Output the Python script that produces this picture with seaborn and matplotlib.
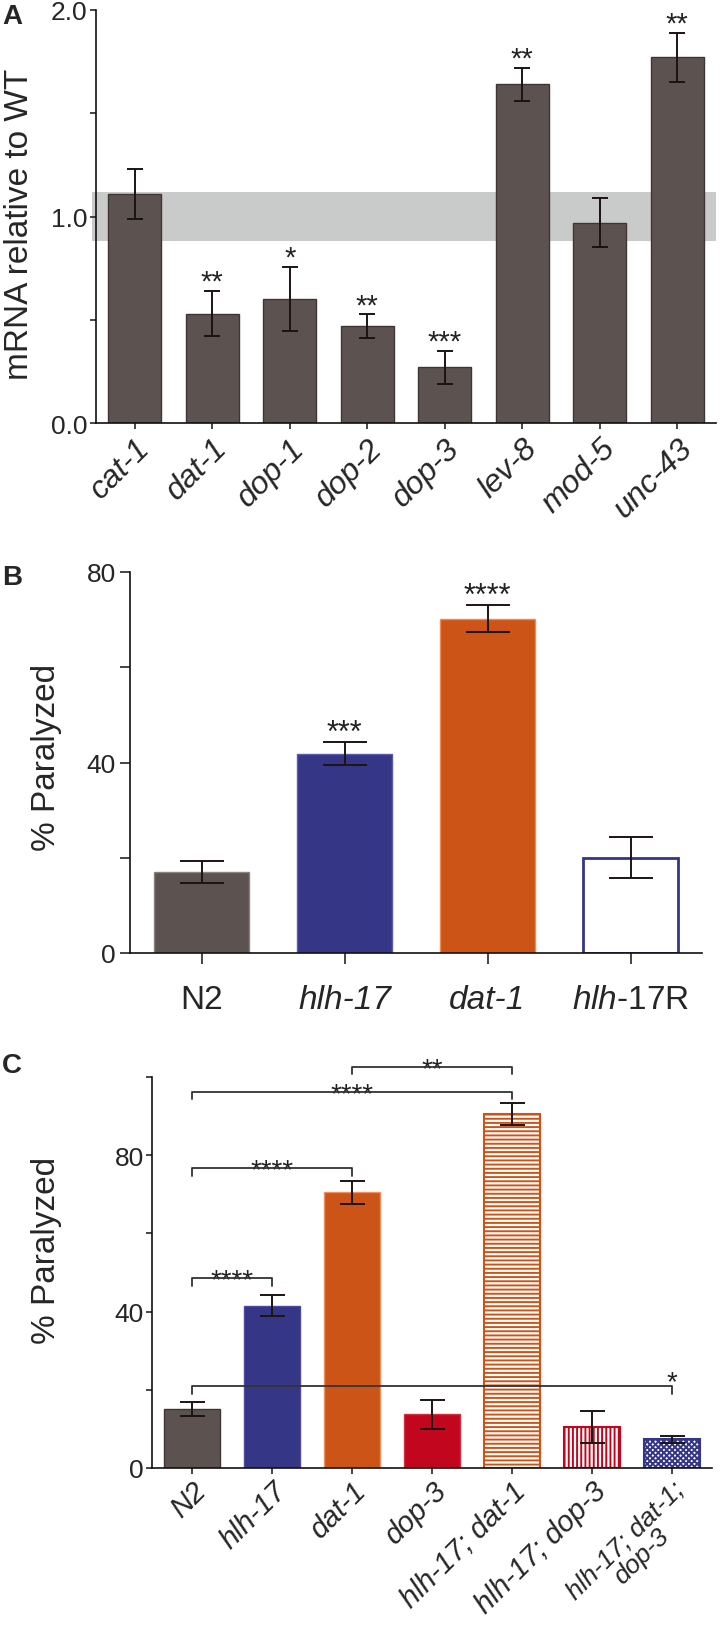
import numpy as np
import pandas as pd
import matplotlib
matplotlib.use("Agg")
import matplotlib.pyplot as plt
import seaborn as sns

# Panel A: qPCR, mRNA relative to WT
genes_a = ["cat-1", "dat-1", "dop-1", "dop-2", "dop-3", "lev-8", "mod-5", "unc-43"]
mrna_a = [1.11, 0.53, 0.60, 0.47, 0.27, 1.64, 0.97, 1.77]
sem_a = [0.12, 0.11, 0.155, 0.056, 0.08, 0.08, 0.12, 0.12]
stars_a = ["", "**", "*", "**", "***", "**", "", "**"]
wt_band = (0.88, 1.12)

# Panel B: % paralyzed
strains_b = ["N2", "hlh-17", "dat-1", "hlh-17R"]
labels_b = ["N2", "hlh-17", "dat-1", "$\\mathit{hlh}$-$\\mathit{17}$R"]
para_b = [17.0, 41.8, 70.2, 20.0]
sem_b = [2.4, 2.4, 2.8, 4.3]
stars_b = ["", "***", "****", ""]

# Panel C: % paralyzed, double / triple mutants
strains_c = ["N2", "hlh-17", "dat-1", "dop-3", "hlh-17; dat-1", "hlh-17; dop-3",
             "hlh-17; dat-1;\ndop-3"]
para_c = [15.2, 41.5, 70.5, 13.7, 90.5, 10.4, 7.4]
sem_c = [1.8, 2.7, 2.9, 3.8, 2.9, 4.1, 0.9]
# (left bar, right bar, height, label)
brackets_c = [(2, 4, 102.6, "**"), (0, 4, 96.2, "****"), (0, 2, 76.7, "****"),
              (0, 1, 48.5, "****"), (0, 6, 20.9, "*")]

GRAY = "#5c5250"
BLUE = "#363687"
ORANGE = "#cc5416"
RED = "#c1061d"
ERR = "#1c1414"

sns.set_style("ticks")
plt.rcParams["font.family"] = ["Liberation Sans", "DejaVu Sans"]
plt.rcParams["hatch.linewidth"] = 1.4
plt.rcParams["mathtext.fontset"] = "custom"
plt.rcParams["mathtext.rm"] = "Liberation Sans"
plt.rcParams["mathtext.it"] = "Liberation Sans:italic"

fig = plt.figure(figsize=(7.2, 16.31), dpi=100)
W, H = 720, 1631


def add_ax(l, r, t, b):
    return fig.add_axes([l / W, 1 - b / H, (r - l) / W, (b - t) / H])


def style(ax):
    sns.despine(ax=ax)
    for s in ["left", "bottom"]:
        ax.spines[s].set_linewidth(1.2)
        ax.spines[s].set_color("#111111")


# ---------------- A ----------------
axA = add_ax(96, 716, 11, 424)
axA.axhspan(*wt_band, xmin=-0.007, xmax=1.0, color="#c9cbca", zorder=0, clip_on=False, lw=0)
sns.barplot(x=genes_a, y=mrna_a, color=GRAY, width=0.68, errorbar=None,
            edgecolor="#3e3534", linewidth=1.0, saturation=1, ax=axA, zorder=2)
axA.errorbar(range(len(genes_a)), mrna_a, yerr=sem_a, fmt="none", ecolor=ERR,
             elinewidth=1.4, capsize=6, capthick=1.4, zorder=4)
for i, s in enumerate(stars_a):
    if s:
        axA.text(i, mrna_a[i] + sem_a[i] + 0.005, s, ha="center", va="baseline",
                 fontsize=21, color="#222222")
axA.set_xlim(-0.5, 7.5)
axA.set_ylim(0, 2.0)
axA.set_yticks([0, 1, 2])
axA.set_yticklabels(["0.0", "1.0", "2.0"])
axA.set_yticks([0.5, 1.5], minor=True)
axA.tick_params(axis="y", which="both", length=4, width=1.2, labelsize=19, pad=2)
axA.tick_params(axis="x", length=4, width=1.2, labelsize=23, pad=3)
axA.set_xticks(range(len(genes_a)))
axA.set_xticklabels(genes_a, rotation=45, ha="right", va="top",
                    rotation_mode="anchor", fontstyle="italic")
axA.set_ylabel("mRNA relative to WT", fontsize=24)
axA.yaxis.set_label_coords(-0.098, 0.484)
style(axA)

# ---------------- B ----------------
axB = add_ax(130, 702, 573, 954)
sns.barplot(x=strains_b, y=para_b, hue=strains_b, palette=[GRAY, BLUE, ORANGE, "white"],
            legend=False, width=0.67, errorbar=None, saturation=1, ax=axB, zorder=2)
edges_b = ["#8a807e", "#5a5aa8", "#f08a50", BLUE]
lws_b = [1.0, 1.0, 1.0, 2.0]
for p, ec, lw in zip(axB.patches, edges_b, lws_b):
    p.set_edgecolor(ec)
    p.set_linewidth(lw)
axB.errorbar(range(len(strains_b)), para_b, yerr=sem_b, fmt="none", ecolor=ERR,
             elinewidth=1.4, capsize=16, capthick=1.4, zorder=4)
for i, s in enumerate(stars_b):
    if s:
        axB.text(i, para_b[i] + sem_b[i] + 0.3, s, ha="center", va="baseline",
                 fontsize=22, color="#222222")
axB.set_xlim(-0.5, 3.5)
axB.set_ylim(0, 80)
axB.set_yticks([0, 40, 80])
axB.set_yticks([20, 60], minor=True)
axB.tick_params(axis="y", which="both", length=7, width=1.2, labelsize=19, pad=3)
axB.tick_params(axis="x", length=8, width=1.2, labelsize=24, pad=14)
axB.set_xticks(range(len(strains_b)))
axB.set_xticklabels(labels_b)
labs = axB.get_xticklabels()
labs[1].set_fontstyle("italic")
labs[2].set_fontstyle("italic")
axB.set_ylabel("% Paralyzed", fontsize=24)
axB.yaxis.set_label_coords(-0.119, 0.517)
style(axB)

# ---------------- C ----------------
axC = add_ax(152, 712, 1078, 1469)
fills_c = [GRAY, BLUE, ORANGE, RED, "white", "white", "white"]
edges_c = ["#3e3534", "#4a4aa0", "#f09060", "#d03040", ORANGE, RED, BLUE]
hatches_c = [None, None, None, None, "----", "||||", "xxxxxx"]
sns.barplot(x=strains_c, y=para_c, hue=strains_c, palette=fills_c, legend=False,
            width=0.69, errorbar=None, saturation=1, ax=axC, zorder=2)
for p, ec, h in zip(axC.patches, edges_c, hatches_c):
    p.set_edgecolor(ec)
    p.set_linewidth(1.5 if h else 1.0)
    if h:
        p.set_hatch(h)
axC.errorbar(range(len(strains_c)), para_c, yerr=sem_c, fmt="none", ecolor=ERR,
             elinewidth=1.4, capsize=9, capthick=1.4, zorder=4)
for a, b, y, s in brackets_c:
    axC.plot([a, a, b, b], [y - 1.9, y, y, y - 1.9], color="#333333", lw=1.3,
             clip_on=False, zorder=5)
    if b == 6:
        axC.annotate(s, (b, y), xytext=(0, -2), textcoords="offset points",
                     ha="center", va="baseline", fontsize=20, color="#222222",
                     annotation_clip=False)
    else:
        axC.annotate(s, ((a + b) / 2, y), xytext=(0, -6.5), textcoords="offset points",
                     ha="center", va="baseline", fontsize=20, color="#222222",
                     annotation_clip=False)
axC.set_xlim(-0.5, 6.5)
axC.set_ylim(0, 100)
axC.set_yticks([0, 40, 80])
axC.set_yticks([20, 60, 100], minor=True)
axC.tick_params(axis="y", which="both", length=4, width=1.2, labelsize=19, pad=2)
axC.tick_params(axis="x", length=4, width=1.2, labelsize=21, pad=2)
axC.set_xticks(range(len(strains_c)))
axC.set_xticklabels(strains_c, rotation=45, ha="right", va="top",
                    rotation_mode="anchor", fontstyle="italic", multialignment="center",
                    linespacing=0.95)
axC.get_xticklabels()[-1].set_fontsize(19)
axC.set_ylabel("% Paralyzed", fontsize=24)
axC.yaxis.set_label_coords(-0.161, 0.56)
style(axC)

# panel letters
for letter, yc in [("A", 17), ("B", 578), ("C", 1066)]:
    fig.text(2 / W, 1 - yc / H, letter, fontsize=20, fontweight="bold",
             ha="left", va="center")

fig.savefig("out.png", dpi=100)
